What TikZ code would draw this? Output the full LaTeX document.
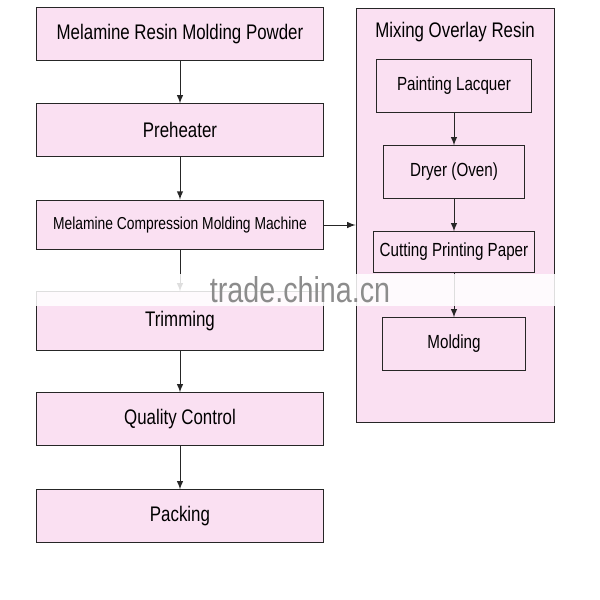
\documentclass[tikz,border=0pt]{standalone}
\usepackage{fontspec}
\setmainfont{Liberation Sans}[FakeStretch=0.8]
\usetikzlibrary{positioning}
\definecolor{boxpink}{RGB}{250,224,242}
\tikzset{
  stage/.style={draw=black!85,fill=boxpink,minimum width=4.77cm,minimum height=0.87cm,inner sep=0pt,font=\fontsize{10}{12}\selectfont},
  sub/.style={draw=black!85,fill=boxpink,minimum width=2.45cm,minimum height=0.87cm,inner sep=0pt,font=\fontsize{9}{11}\selectfont},
  flow/.style={-latex,black!85}
}
\begin{document}
\begin{tikzpicture}[x=1cm/60,y=-1cm/60]
\useasboundingbox (0,0) rectangle (600,600);

% Colonne principale
\node[stage] (powder) at (180,34) {Melamine Resin Molding Powder};
\node[stage] (heat) at (180,130) {Preheater};
\node[stage,font=\fontsize{8.2}{10}\selectfont,minimum height=0.83cm] (press) at (180,225) {Melamine Compression Molding Machine};
\node[stage,minimum height=0.97cm] (trim) at (180,321) {Trimming};
\node[stage] (qc) at (180,419) {Quality Control};
\node[stage] (pack) at (180,516) {Packing};

% Bloc de droite
\node[draw=black!85,fill=boxpink,minimum width=3.3cm,minimum height=6.9cm] (overlay) at (455,215) {};
\node[font=\fontsize{10}{12}\selectfont] (title) at (455,32) {Mixing Overlay Resin};
\node[sub,minimum width=2.57cm] (lacquer) at (454,86) {Painting Lacquer};
\node[sub,minimum width=2.35cm] (dryer) at (454,172) {Dryer (Oven)};
\node[sub,minimum width=2.67cm,minimum height=0.67cm] (cut) at (454,252) {Cutting Printing Paper};
\node[sub,minimum width=2.37cm] (mold) at (454,344) {Molding};

% Flèches
\draw[flow] (powder) -- (heat);
\draw[flow] (heat) -- (press);
\draw[flow] (press) -- (trim);
\draw[flow] (trim) -- (qc);
\draw[flow] (qc) -- (pack);
\draw[flow] (press) -- (press -| overlay.west);
\draw[flow] (lacquer) -- (dryer);
\draw[flow] (dryer) -- (cut);
\draw[flow] (cut) -- (mold);

% Filigrane
\fill[white,opacity=0.85] (30,274) rectangle (560,306);
\node[text=black!45,font=\fontsize{17}{20}\selectfont] (mark) at (300,290) {trade.china.cn};
\end{tikzpicture}
\end{document}
